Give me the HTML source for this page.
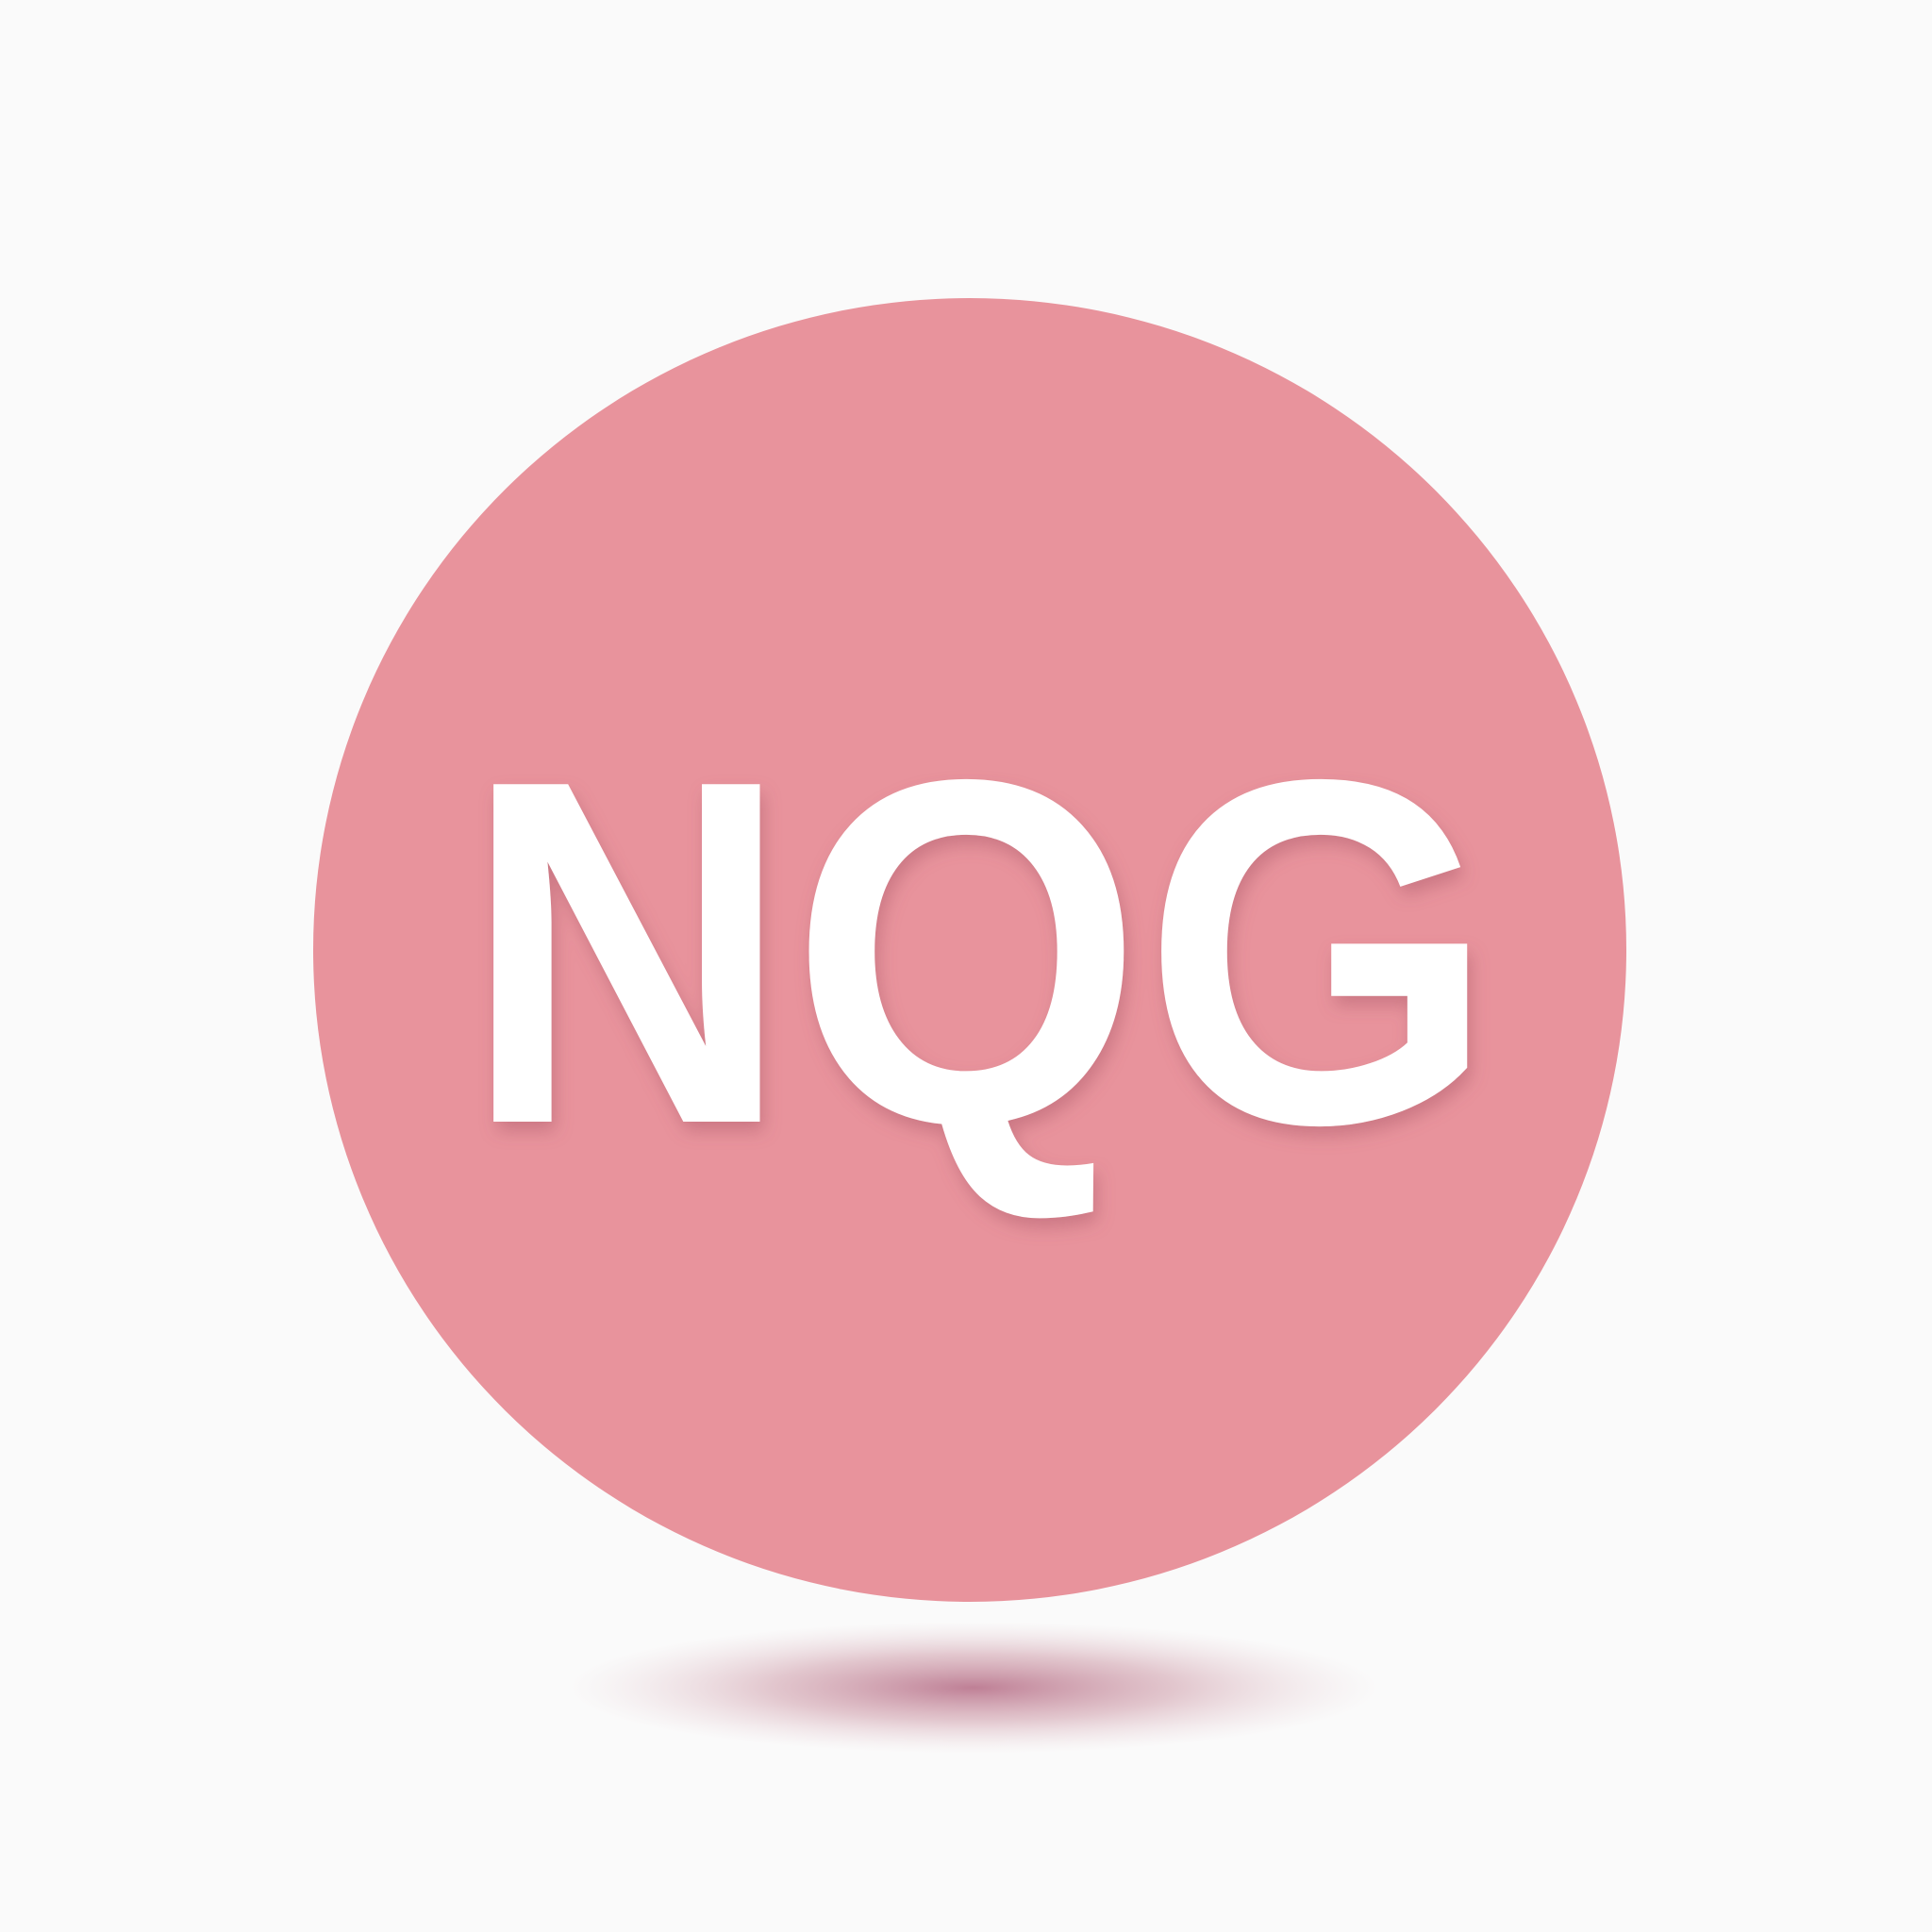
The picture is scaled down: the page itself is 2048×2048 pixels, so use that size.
<!DOCTYPE html>
<html><head><meta charset="utf-8"><style>
html,body{margin:0;padding:0;background:#fafafa;}
svg{display:block}
</style></head><body>
<svg width="2048" height="2048" viewBox="0 0 2048 2048" xmlns="http://www.w3.org/2000/svg">
<defs>
<radialGradient id="sh" cx="50%" cy="50%" r="50%">
<stop offset="0" stop-color="#b46a84" stop-opacity="0.85"/>
<stop offset="0.5" stop-color="#c58898" stop-opacity="0.45"/>
<stop offset="1" stop-color="#e0c0c8" stop-opacity="0"/>
</radialGradient>
<filter id="ts" x="-10%" y="-10%" width="120%" height="130%">
<feDropShadow dx="4" dy="10" stdDeviation="9" flood-color="#a05060" flood-opacity="0.4"/>
</filter>
</defs>
<rect width="2048" height="2048" fill="#fafafa"/>
<ellipse cx="1032" cy="1789" rx="430" ry="70" fill="url(#sh)"/>
<ellipse cx="1028" cy="1007" rx="696" ry="691" fill="#e8939c"/>
<text x="491" y="1189" textLength="1094" lengthAdjust="spacingAndGlyphs" font-family="Liberation Sans, sans-serif" font-weight="bold" font-size="520" fill="#ffffff" filter="url(#ts)">NQG</text>
</svg>
</body></html>
